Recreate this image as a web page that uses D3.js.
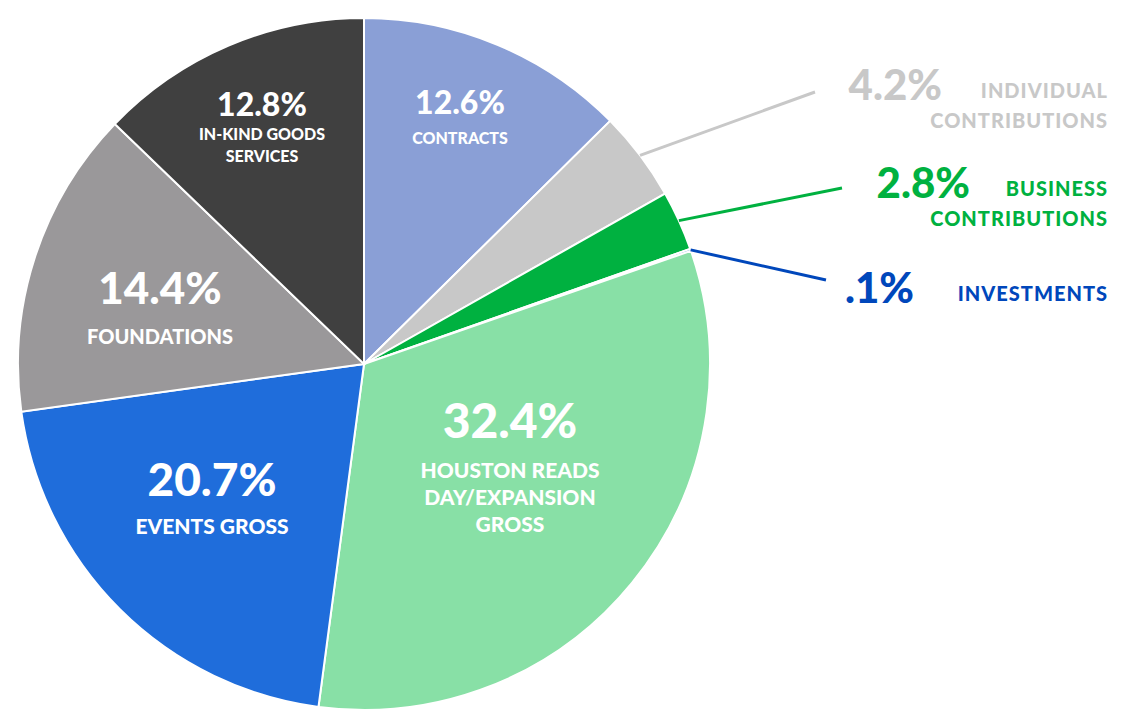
<!DOCTYPE html>
<html><head><meta charset="utf-8">
<script src="https://cdn.jsdelivr.net/npm/d3@7"></script>
<style>body{margin:0;background:#fff}text{font-family:Lato,"Noto Sans",sans-serif;font-weight:900}</style>
</head><body><svg id="c" width="1148" height="728"></svg>
<script>
const categories = ["CONTRACTS","INDIVIDUAL CONTRIBUTIONS","BUSINESS CONTRIBUTIONS","INVESTMENTS","HOUSTON READS DAY/EXPANSION GROSS","EVENTS GROSS","FOUNDATIONS","IN-KIND GOODS SERVICES"];
const values = [12.6, 4.2, 2.8, 0.1, 32.4, 20.7, 14.4, 12.8];
const pctLabels = ["12.6%","4.2%","2.8%",".1%","32.4%","20.7%","14.4%","12.8%"];
const colors = ["#8a9fd6","#c8c8c8","#00b140","#0047bb","#88e0a6","#1f6ddb","#9a989a","#404040"];

const cx = 364, cy = 364, r = 346;
const svg = d3.select("#c");
const g = svg.append("g").attr("transform", `translate(${cx},${cy})`);
const pie = d3.pie().sort(null).value(d => d)(values);
const arc = d3.arc().innerRadius(0).outerRadius(r);

g.selectAll("path").data(pie).join("path")
  .attr("d", arc).attr("fill", (d, i) => colors[i])
  .attr("stroke", "#fff").attr("stroke-width", 2);

// inside labels: [index, x, y of pct, size, sublines, subsize, line gap]
const inside = [
  [0, 460, 114, 32, ["CONTRACTS"], 16, 30],
  [7, 262, 116, 32, ["IN-KIND GOODS", "SERVICES"], 16, 24],
  [6, 160, 304, 44, ["FOUNDATIONS"], 20, 40],
  [5, 212, 496, 46, ["EVENTS GROSS"], 21, 38],
  [4, 510, 438, 48, ["HOUSTON READS", "DAY/EXPANSION", "GROSS"], 21, 40]
];
inside.forEach(([i, x, y, s, subs, ss, gap]) => {
  svg.append("text").attr("x", x).attr("y", y).attr("text-anchor", "middle")
    .attr("fill", "#fff").attr("font-size", s).text(pctLabels[i]);
  subs.forEach((t, k) => svg.append("text").attr("x", x).attr("y", y + gap + k * (ss + 6) - (k ? 0 : 0) + (k ? gap - ss - 6 : 0) * 0)
    .attr("text-anchor", "middle").attr("fill", "#fff").attr("font-size", ss).text(t));
});

// outside labels: [index, line end x, y, pct x, pct y, line1, line2]
const outside = [
  [1, 815, 92, 942, 100, "INDIVIDUAL", "CONTRIBUTIONS"],
  [2, 842, 188, 970, 198, "BUSINESS", "CONTRIBUTIONS"],
  [3, 826, 280, 914, 303, "INVESTMENTS", null]
];
const outer = d3.arc().innerRadius(r).outerRadius(r);
outside.forEach(([i, lx, ly, px, py, l1, l2]) => {
  const [ax, ay] = outer.centroid(pie[i]);
  svg.append("line").attr("x1", cx + ax).attr("y1", cy + ay).attr("x2", lx).attr("y2", ly)
    .attr("stroke", colors[i]).attr("stroke-width", 3);
  svg.append("text").attr("x", px).attr("y", py).attr("text-anchor", "end")
    .attr("fill", colors[i]).attr("font-size", 42).text(pctLabels[i]);
  svg.append("text").attr("x", 1108).attr("y", py - 2).attr("text-anchor", "end")
    .attr("fill", colors[i]).attr("font-size", 20).attr("letter-spacing", 1).text(l1);
  if (l2) svg.append("text").attr("x", 1108).attr("y", py + 28).attr("text-anchor", "end")
    .attr("fill", colors[i]).attr("font-size", 20).attr("letter-spacing", 1).text(l2);
});
</script></body></html>
